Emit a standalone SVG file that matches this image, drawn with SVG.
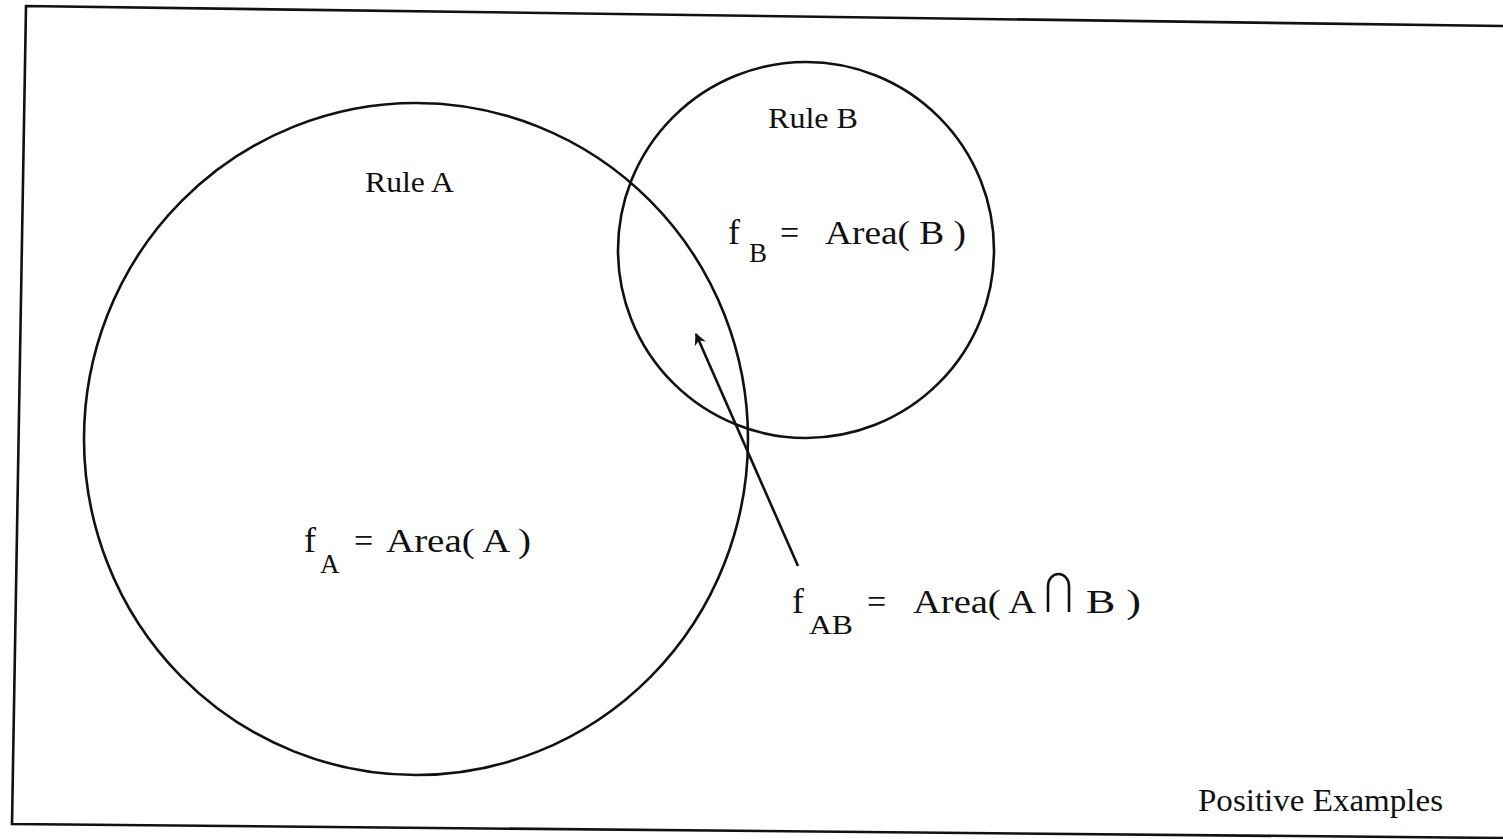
<svg xmlns="http://www.w3.org/2000/svg" width="1503" height="839" viewBox="0 0 1503 839">
<style>
.ln{fill:none;stroke:#111;stroke-width:2.6}
.t{font-family:"Liberation Serif","Times New Roman",serif;fill:#111}
</style>
<defs>
<marker id="ah" viewBox="0 0 10 10" refX="9" refY="5" markerWidth="16" markerHeight="12" orient="auto" markerUnits="userSpaceOnUse">
<path d="M0,0 L10,5 L0,10 L3,5 Z" fill="#111"/>
</marker>
</defs>
<rect width="1503" height="839" fill="#fff"/>
<g id="frame">
<polyline class="ln" stroke-width="3" points="1503,26 26,6 12,824 1503,838"/>
<text class="t" x="1198" y="811" font-size="31" textLength="245" lengthAdjust="spacingAndGlyphs">Positive Examples</text>
</g>
<g id="ruleA">
<ellipse class="ln" cx="416" cy="439" rx="332" ry="336"/>
<text class="t" x="365" y="192" font-size="29" textLength="89" lengthAdjust="spacingAndGlyphs">Rule A</text>
<text class="t" x="304" y="552" font-size="36">f</text>
<text class="t" x="320" y="573" font-size="27">A</text>
<text class="t" x="354" y="552" font-size="34">=</text>
<text class="t" x="386" y="552" font-size="34" textLength="145" lengthAdjust="spacingAndGlyphs">Area( A )</text>
</g>
<g id="ruleB">
<circle class="ln" cx="806" cy="250" r="188"/>
<text class="t" x="768" y="128" font-size="29" textLength="90" lengthAdjust="spacingAndGlyphs">Rule B</text>
<text class="t" x="728" y="244" font-size="36">f</text>
<text class="t" x="749" y="262" font-size="27">B</text>
<text class="t" x="780" y="244" font-size="34">=</text>
<text class="t" x="825" y="244" font-size="34" textLength="141" lengthAdjust="spacingAndGlyphs">Area( B )</text>
</g>
<g id="intersection">
<text class="t" x="792" y="613" font-size="36">f</text>
<text class="t" x="809" y="634" font-size="27" textLength="44" lengthAdjust="spacingAndGlyphs">AB</text>
<text class="t" x="867" y="613" font-size="34">=</text>
<text class="t" x="913" y="613" font-size="34" textLength="123" lengthAdjust="spacingAndGlyphs">Area( A</text>
<path class="ln" stroke-width="2.8" d="M1048,612 V586 A10.5,12 0 0 1 1069,586 V612"/>
<text class="t" x="1086" y="613" font-size="34" textLength="55" lengthAdjust="spacingAndGlyphs">B )</text>
</g>
<g id="connectors">
<line class="ln" stroke-width="2.4" x1="798" y1="566" x2="696" y2="334" marker-end="url(#ah)"/>
</g>
</svg>
